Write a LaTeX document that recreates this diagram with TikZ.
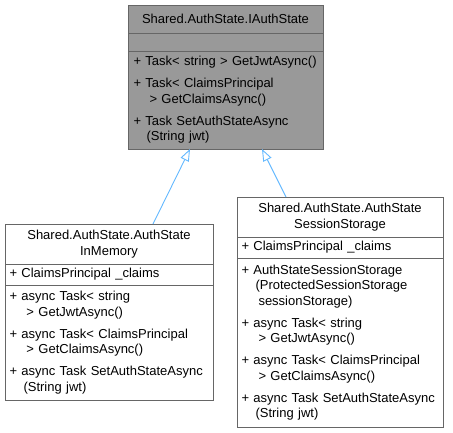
\documentclass[tikz,border=0pt]{standalone}
\usepackage{fontspec}
\setmainfont{Liberation Sans}
\usetikzlibrary{arrows.meta, positioning}
\definecolor{umlborder}{HTML}{666666}
\definecolor{umlfocus}{HTML}{999999}
\definecolor{umledge}{HTML}{63B8FF}
\newcommand{\umlfont}{\fontsize{13}{15.5}\selectfont\hyphenpenalty=10000}
\newcommand{\opgap}{\\[6.5pt]}
\newcommand{\wrapin}[1]{\hspace*{#1pt}}
\tikzset{
  classpart/.style={rectangle, draw=umlborder, fill=white, line width=0.8pt, outer sep=0pt,
              inner xsep=4.5pt, inner ysep=0pt, font=\umlfont},
  classhead/.style={classpart, align=center},
  classmembers/.style={classpart, align=left},
  colw/.style={minimum width=#1pt, text width=#1pt-9pt},
  focus/.style={fill=umlfocus},
  inherit/.style={-{Triangle[open, length=12pt, width=9pt]}, draw=umledge, line width=0.9pt},
}
\begin{document}
\begin{tikzpicture}[x=1pt, y=-1pt, node distance=0pt]
    \useasboundingbox (0,0) rectangle (453,432);
    % interface
    \node[classhead, focus, colw=195, minimum height=28pt, anchor=north] (iface) at (225.5,5) {Shared.AuthState.IAuthState};
    \node[classmembers, focus, colw=195, minimum height=18pt, below=of iface] (ifaceAttr) {};
    \node[classmembers, focus, colw=195, minimum height=98pt, inner xsep=5.5pt, text width=184pt, below=of ifaceAttr] (ifaceOps)
      {+ Task< string > GetJwtAsync()\opgap
       + Task< ClaimsPrincipal\\ \wrapin{16}> GetClaimsAsync()\opgap
       + Task SetAuthStateAsync\\ \wrapin{13}(String jwt)};

    % in-memory implementation
    \node[classhead, colw=208, minimum height=40pt, anchor=north] (inmem) at (109,224) {Shared.AuthState.AuthState\\InMemory};
    \node[classmembers, colw=208, minimum height=21pt, below=of inmem] (inmemAttr) {+ ClaimsPrincipal \_claims};
    \node[classmembers, colw=208, minimum height=115pt, below=of inmemAttr] (inmemOps)
      {+ async Task< string\\ \wrapin{17}> GetJwtAsync()\opgap
       + async Task< ClaimsPrincipal\\ \wrapin{17}> GetClaimsAsync()\opgap
       + async Task SetAuthStateAsync\\ \wrapin{14}(String jwt)};

    % session storage implementation
    \node[classhead, colw=206, minimum height=40pt, anchor=north] (sess) at (340,197) {Shared.AuthState.AuthState\\SessionStorage};
    \node[classmembers, colw=206, minimum height=21pt, below=of sess] (sessAttr) {+ ClaimsPrincipal \_claims};
    \node[classmembers, colw=206, minimum height=169pt, below=of sessAttr] (sessOps)
      {+ AuthStateSessionStorage\\ \wrapin{14}(ProtectedSessionStorage\\ \wrapin{17}sessionStorage)\opgap
       + async Task< string\\ \wrapin{17}> GetJwtAsync()\opgap
       + async Task< ClaimsPrincipal\\ \wrapin{17}> GetClaimsAsync()\opgap
       + async Task SetAuthStateAsync\\ \wrapin{14}(String jwt)};

    \draw[inherit] ([xshift=44pt]inmem.north) -- ([xshift=-35.5pt]ifaceOps.south);
    \draw[inherit] ([xshift=-54pt]sess.north) -- ([xshift=36.5pt]ifaceOps.south);
  \end{tikzpicture}
\end{document}
